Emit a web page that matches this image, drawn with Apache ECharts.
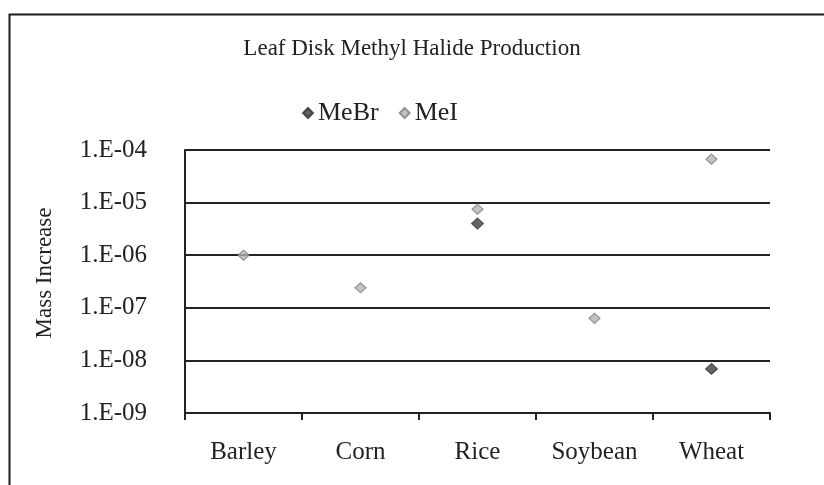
<!DOCTYPE html>
<html><head><meta charset="utf-8">
<script src="https://cdn.jsdelivr.net/npm/echarts@6/dist/echarts.min.js"></script>
<style>html,body{margin:0;padding:0;background:#fff}#c{width:824px;height:485px}</style>
</head><body><div id="c"></div>
<script>
const categories = ['Barley', 'Corn', 'Rice', 'Soybean', 'Wheat'];
const meBr = [null, null, 4.0e-6, null, 6.9e-9];
const meI = [1.0e-6, 2.4e-7, 7.5e-6, 6.3e-8, 6.7e-5];
const yTickLabels = ['1.E-09', '1.E-08', '1.E-07', '1.E-06', '1.E-05', '1.E-04'];

const FONT = '"Liberation Serif", "Times New Roman", serif';
const chart = echarts.init(document.getElementById('c'));
chart.setOption({
  animation: false,
  backgroundColor: '#fff',
  graphic: [{
    type: 'rect', left: 7, top: 12, shape: { width: 840, height: 500 },
    style: { fill: 'none', stroke: '#1a1a1a', lineWidth: 2 }, silent: true, z: -1
  }, {
    type: 'text', x: 45, y: 273, rotation: Math.PI / 2, silent: true,
    style: { text: 'Mass Increase', font: '23px ' + FONT, fill: '#222', align: 'center', verticalAlign: 'middle' }
  }],
  title: {
    text: 'Leaf Disk Methyl Halide Production', left: 'center', top: 32,
    textStyle: { fontFamily: FONT, fontSize: 23, fontWeight: 'normal', color: '#222' }
  },
  legend: {
    top: 95, left: 297, itemWidth: 10, itemHeight: 10, itemGap: 20,
    textStyle: { fontFamily: FONT, fontSize: 26, color: '#222' },
    data: [{ name: 'MeBr', icon: 'diamond' }, { name: 'MeI', icon: 'diamond' }]
  },
  grid: { left: 185, right: 54, top: 150, bottom: 72 },
  xAxis: {
    type: 'category', data: categories, boundaryGap: true,
    axisLine: { lineStyle: { color: '#222', width: 2 } },
    axisTick: { show: true, length: 7, lineStyle: { color: '#222', width: 2 } },
    axisLabel: { fontFamily: FONT, fontSize: 25, color: '#222', margin: 27 }
  },
  yAxis: {
    type: 'log', logBase: 10, min: 1e-9, max: 1e-4,
    axisLine: { show: true, lineStyle: { color: '#222', width: 2 } },
    axisTick: { show: false },
    splitLine: { show: true, lineStyle: { color: '#222', width: 2 } },
    axisLabel: {
      fontFamily: FONT, fontSize: 25, color: '#222', margin: 38,
      formatter: function (v) {
        const e = Math.round(Math.log10(v));
        return yTickLabels[e + 9];
      }
    }
  },
  series: [
    { name: 'MeBr', type: 'scatter', data: meBr, symbol: 'diamond', symbolSize: [12, 11],
      itemStyle: { color: '#3d3d3d', borderColor: '#2e2e2e', borderWidth: 1 } },
    { name: 'MeI', type: 'scatter', data: meI, symbol: 'diamond', symbolSize: [11, 10],
      itemStyle: { color: '#b4b4b4', borderColor: '#7f7f7f', borderWidth: 1.2 } }
  ]
});
</script></body></html>
